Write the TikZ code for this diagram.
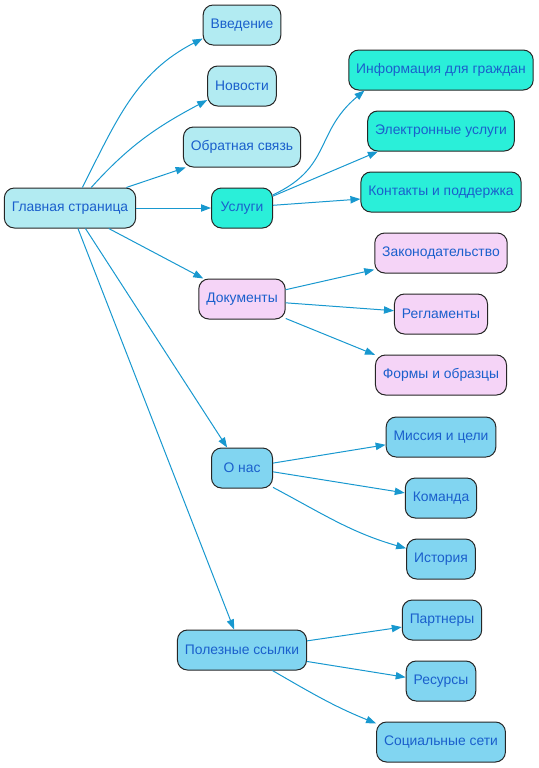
\documentclass[tikz,border=0pt]{standalone}
\usepackage{fontspec}
\setmainfont{Liberation Sans}
\usepackage{xcolor}
\usetikzlibrary{arrows.meta}
\definecolor{paleC}{HTML}{B2EBF2}
\definecolor{turq}{HTML}{2AEFD9}
\definecolor{lilac}{HTML}{F5D4F7}
\definecolor{skyB}{HTML}{81D5F1}
\definecolor{txtB}{HTML}{1A5FCC}
\definecolor{lnkB}{HTML}{1898CF}

\begin{document}
\begin{tikzpicture}[x=0.75pt,y=0.75pt,font=\fontsize{10.4}{12}\selectfont,
      >={Triangle[length=7.5pt,width=5.5pt]},
      box/.style={draw=black!85,line width=0.75pt,rounded corners=7.5pt,minimum height=30pt,minimum width=45.75pt,inner xsep=5.6pt,text=txtB},
      pc/.style={box,fill=paleC},
      tq/.style={box,fill=turq},
      lc/.style={box,fill=lilac},
      sk/.style={box,fill=skyB},
      link/.style={->,draw=lnkB,line width=0.75pt}]
    \useasboundingbox (0,0) rectangle (539,-768);
    % root
    \node[pc] (main) at (70,-208) {Главная страница};
    % first level
    \node[pc] (vved) at (242,-25) {Введение};
    \node[pc] (nov) at (242,-86) {Новости};
    \node[pc] (obr) at (242,-147) {Обратная связь};
    \node[tq] (usl) at (242,-208) {Услуги};
    \node[lc] (docs) at (242,-299) {Документы};
    \node[sk] (onas) at (242,-468) {О нас};
    \node[sk] (polez) at (242,-650) {Полезные ссылки};
    % second level
    \node[tq] (info) at (441,-70) {Информация для граждан};
    \node[tq] (elek) at (441,-131) {Электронные услуги};
    \node[tq] (kont) at (441,-192) {Контакты и поддержка};
    \node[lc] (zak) at (441,-253) {Законодательство};
    \node[lc] (regl) at (441,-314) {Регламенты};
    \node[lc] (form) at (441,-375) {Формы и образцы};
    \node[sk] (miss) at (441,-437) {Миссия и цели};
    \node[sk] (kom) at (441,-498) {Команда};
    \node[sk] (ist) at (441,-559) {История};
    \node[sk] (partn) at (442,-620) {Партнеры};
    \node[sk] (res) at (441,-681) {Ресурсы};
    \node[sk] (soc) at (441,-742) {Социальные сети};
    % links
    \draw[link] (main.59) to[out=63,in=207] (vved.199);
    \draw[link] (main.44) to[out=48,in=208] (nov.202);
    \foreach \s/\t in {main.20/obr.200,main/usl,main/docs,main.307/onas.126,main/polez,
        usl.21/elek.198,usl.5/kont.185,docs.12/zak.194,docs.355/regl.176,docs.336/form.163,
        onas.9/miss.188,onas.353/kom.172,polez.8/partn.190,polez.350/res.174}
      \draw[link] (\s) -- (\t);
    \draw[link] (usl.23) to[out=25,in=220,looseness=1.2] (info.195);
    \draw[link] (onas.328) to[out=-28,in=164] (ist.163);
    \draw[link] (polez.326) to[out=-30,in=158] (soc.164);
  \end{tikzpicture}
\end{document}
